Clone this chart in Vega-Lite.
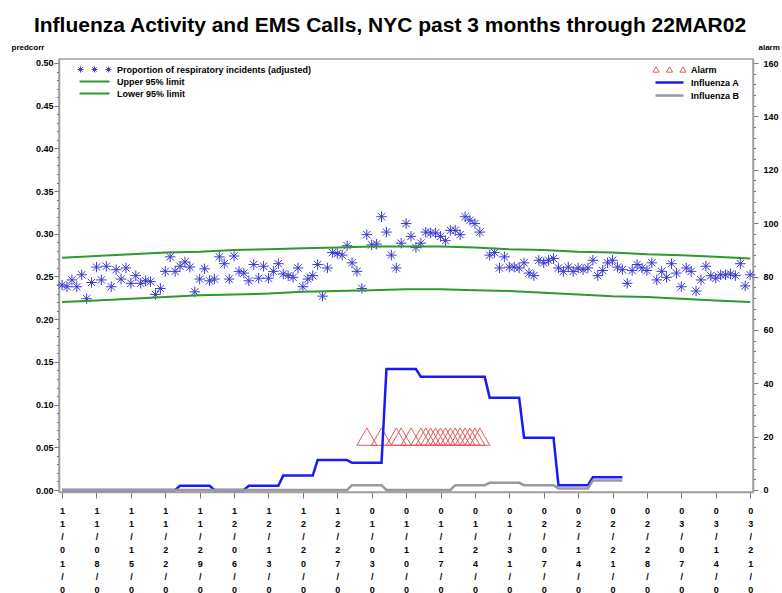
{
  "$schema": "https://vega.github.io/schema/vega-lite/v6.json",
  "width": 694,
  "height": 433,
  "autosize": {"type": "none"},
  "padding": {"left": 59, "top": 59, "right": 29, "bottom": 101},
  "background": "white",
  "config": {
    "font": "Liberation Sans",
    "view": {"stroke": "#a0a0a0", "strokeWidth": 1.5}
  },
  "title": {
    "text": "Influenza Activity and EMS Calls, NYC past 3 months through 22MAR02",
    "font": "Liberation Sans",
    "fontSize": 21,
    "fontWeight": "bold",
    "color": "black",
    "anchor": "middle",
    "frame": "group",
    "dx": -16,
    "offset": 7
  },
  "datasets": {
    "pts": [
      {"date":"2001-11-01","value":0.240},{"date":"2001-11-02","value":0.238},{"date":"2001-11-03","value":0.246},{"date":"2001-11-04","value":0.238},{"date":"2001-11-05","value":0.252},{"date":"2001-11-06","value":0.224},{"date":"2001-11-07","value":0.243},{"date":"2001-11-08","value":0.261},{"date":"2001-11-09","value":0.246},{"date":"2001-11-10","value":0.262},
      {"date":"2001-11-11","value":0.238},{"date":"2001-11-12","value":0.258},{"date":"2001-11-13","value":0.247},{"date":"2001-11-14","value":0.260},{"date":"2001-11-15","value":0.242},{"date":"2001-11-16","value":0.251},{"date":"2001-11-17","value":0.242},{"date":"2001-11-18","value":0.245},{"date":"2001-11-19","value":0.244},{"date":"2001-11-20","value":0.229},
      {"date":"2001-11-21","value":0.236},{"date":"2001-11-22","value":0.256},{"date":"2001-11-23","value":0.273},{"date":"2001-11-24","value":0.256},{"date":"2001-11-25","value":0.262},{"date":"2001-11-26","value":0.267},{"date":"2001-11-27","value":0.261},{"date":"2001-11-28","value":0.232},{"date":"2001-11-29","value":0.247},{"date":"2001-11-30","value":0.259},
      {"date":"2001-12-01","value":0.245},{"date":"2001-12-02","value":0.247},{"date":"2001-12-03","value":0.273},{"date":"2001-12-04","value":0.265},{"date":"2001-12-05","value":0.247},{"date":"2001-12-06","value":0.274},{"date":"2001-12-07","value":0.256},{"date":"2001-12-08","value":0.254},{"date":"2001-12-09","value":0.245},{"date":"2001-12-10","value":0.264},
      {"date":"2001-12-11","value":0.248},{"date":"2001-12-12","value":0.262},{"date":"2001-12-13","value":0.248},{"date":"2001-12-14","value":0.256},{"date":"2001-12-15","value":0.265},{"date":"2001-12-16","value":0.253},{"date":"2001-12-17","value":0.251},{"date":"2001-12-18","value":0.249},{"date":"2001-12-19","value":0.260},{"date":"2001-12-20","value":0.238},
      {"date":"2001-12-21","value":0.247},{"date":"2001-12-22","value":0.251},{"date":"2001-12-23","value":0.264},{"date":"2001-12-24","value":0.227},{"date":"2001-12-25","value":0.260},{"date":"2001-12-26","value":0.278},{"date":"2001-12-27","value":0.277},{"date":"2001-12-28","value":0.275},{"date":"2001-12-29","value":0.286},{"date":"2001-12-30","value":0.266},
      {"date":"2001-12-31","value":0.256},{"date":"2002-01-01","value":0.236},{"date":"2002-01-02","value":0.299},{"date":"2002-01-03","value":0.287},{"date":"2002-01-04","value":0.288},{"date":"2002-01-05","value":0.320},{"date":"2002-01-06","value":0.302},{"date":"2002-01-07","value":0.275},{"date":"2002-01-08","value":0.260},{"date":"2002-01-09","value":0.289},
      {"date":"2002-01-10","value":0.312},{"date":"2002-01-11","value":0.297},{"date":"2002-01-12","value":0.284},{"date":"2002-01-13","value":0.289},{"date":"2002-01-14","value":0.302},{"date":"2002-01-15","value":0.301},{"date":"2002-01-16","value":0.301},{"date":"2002-01-17","value":0.297},{"date":"2002-01-18","value":0.292},{"date":"2002-01-19","value":0.304},
      {"date":"2002-01-20","value":0.304},{"date":"2002-01-21","value":0.299},{"date":"2002-01-22","value":0.320},{"date":"2002-01-23","value":0.316},{"date":"2002-01-24","value":0.312},{"date":"2002-01-25","value":0.302},{"date":"2002-01-27","value":0.275},{"date":"2002-01-28","value":0.278},{"date":"2002-01-29","value":0.260},{"date":"2002-01-30","value":0.273},
      {"date":"2002-01-31","value":0.261},{"date":"2002-02-01","value":0.261},{"date":"2002-02-02","value":0.260},{"date":"2002-02-03","value":0.266},{"date":"2002-02-04","value":0.254},{"date":"2002-02-05","value":0.251},{"date":"2002-02-06","value":0.269},{"date":"2002-02-07","value":0.266},{"date":"2002-02-08","value":0.269},{"date":"2002-02-09","value":0.271},
      {"date":"2002-02-10","value":0.260},{"date":"2002-02-11","value":0.256},{"date":"2002-02-12","value":0.261},{"date":"2002-02-13","value":0.256},{"date":"2002-02-14","value":0.260},{"date":"2002-02-15","value":0.258},{"date":"2002-02-16","value":0.260},{"date":"2002-02-17","value":0.269},{"date":"2002-02-18","value":0.251},{"date":"2002-02-19","value":0.257},
      {"date":"2002-02-20","value":0.266},{"date":"2002-02-21","value":0.269},{"date":"2002-02-22","value":0.261},{"date":"2002-02-23","value":0.258},{"date":"2002-02-24","value":0.242},{"date":"2002-02-25","value":0.257},{"date":"2002-02-26","value":0.264},{"date":"2002-02-27","value":0.260},{"date":"2002-02-28","value":0.257},{"date":"2002-03-01","value":0.266},
      {"date":"2002-03-02","value":0.246},{"date":"2002-03-03","value":0.256},{"date":"2002-03-04","value":0.249},{"date":"2002-03-05","value":0.265},{"date":"2002-03-06","value":0.254},{"date":"2002-03-07","value":0.238},{"date":"2002-03-08","value":0.260},{"date":"2002-03-09","value":0.256},{"date":"2002-03-10","value":0.233},{"date":"2002-03-11","value":0.246},
      {"date":"2002-03-12","value":0.262},{"date":"2002-03-13","value":0.251},{"date":"2002-03-14","value":0.248},{"date":"2002-03-15","value":0.252},{"date":"2002-03-16","value":0.252},{"date":"2002-03-17","value":0.253},{"date":"2002-03-18","value":0.251},{"date":"2002-03-19","value":0.265},{"date":"2002-03-20","value":0.239},{"date":"2002-03-21","value":0.252}
    ],
    "limits": [
      {"date":"2001-11-01","series":"Upper 95% limit","value":0.272},{"date":"2001-11-08","series":"Upper 95% limit","value":0.274},{"date":"2001-11-15","series":"Upper 95% limit","value":0.276},{"date":"2001-11-22","series":"Upper 95% limit","value":0.278},{"date":"2001-11-29","series":"Upper 95% limit","value":0.279},{"date":"2001-12-06","series":"Upper 95% limit","value":0.281},{"date":"2001-12-13","series":"Upper 95% limit","value":0.282},
      {"date":"2001-12-20","series":"Upper 95% limit","value":0.283},{"date":"2001-12-27","series":"Upper 95% limit","value":0.284},{"date":"2002-01-03","series":"Upper 95% limit","value":0.285},{"date":"2002-01-10","series":"Upper 95% limit","value":0.285},{"date":"2002-01-17","series":"Upper 95% limit","value":0.285},{"date":"2002-01-24","series":"Upper 95% limit","value":0.284},{"date":"2002-01-31","series":"Upper 95% limit","value":0.282},
      {"date":"2002-02-07","series":"Upper 95% limit","value":0.281},{"date":"2002-02-14","series":"Upper 95% limit","value":0.279},{"date":"2002-02-21","series":"Upper 95% limit","value":0.278},{"date":"2002-02-28","series":"Upper 95% limit","value":0.276},{"date":"2002-03-07","series":"Upper 95% limit","value":0.275},{"date":"2002-03-14","series":"Upper 95% limit","value":0.273},{"date":"2002-03-21","series":"Upper 95% limit","value":0.271},
      {"date":"2001-11-01","series":"Lower 95% limit","value":0.220},{"date":"2001-11-08","series":"Lower 95% limit","value":0.222},{"date":"2001-11-15","series":"Lower 95% limit","value":0.224},{"date":"2001-11-22","series":"Lower 95% limit","value":0.226},{"date":"2001-11-29","series":"Lower 95% limit","value":0.228},{"date":"2001-12-06","series":"Lower 95% limit","value":0.229},{"date":"2001-12-13","series":"Lower 95% limit","value":0.230},
      {"date":"2001-12-20","series":"Lower 95% limit","value":0.232},{"date":"2001-12-27","series":"Lower 95% limit","value":0.233},{"date":"2002-01-03","series":"Lower 95% limit","value":0.234},{"date":"2002-01-10","series":"Lower 95% limit","value":0.235},{"date":"2002-01-17","series":"Lower 95% limit","value":0.235},{"date":"2002-01-24","series":"Lower 95% limit","value":0.234},{"date":"2002-01-31","series":"Lower 95% limit","value":0.233},
      {"date":"2002-02-07","series":"Lower 95% limit","value":0.231},{"date":"2002-02-14","series":"Lower 95% limit","value":0.229},{"date":"2002-02-21","series":"Lower 95% limit","value":0.227},{"date":"2002-02-28","series":"Lower 95% limit","value":0.226},{"date":"2002-03-07","series":"Lower 95% limit","value":0.224},{"date":"2002-03-14","series":"Lower 95% limit","value":0.222},{"date":"2002-03-21","series":"Lower 95% limit","value":0.220}
    ],
    "flu": [
      {"date":"2001-11-01","series":"Influenza A","value":0},{"date":"2001-11-24","series":"Influenza A","value":0},{"date":"2001-11-25","series":"Influenza A","value":1.6},{"date":"2001-12-01","series":"Influenza A","value":1.6},{"date":"2001-12-02","series":"Influenza A","value":0},{"date":"2001-12-08","series":"Influenza A","value":0},{"date":"2001-12-09","series":"Influenza A","value":1.6},{"date":"2001-12-15","series":"Influenza A","value":1.6},
      {"date":"2001-12-16","series":"Influenza A","value":5.4},{"date":"2001-12-22","series":"Influenza A","value":5.4},{"date":"2001-12-23","series":"Influenza A","value":11.2},{"date":"2001-12-29","series":"Influenza A","value":11.2},{"date":"2001-12-30","series":"Influenza A","value":10.2},{"date":"2002-01-05","series":"Influenza A","value":10.2},{"date":"2002-01-06","series":"Influenza A","value":45.3},{"date":"2002-01-12","series":"Influenza A","value":45.3},
      {"date":"2002-01-13","series":"Influenza A","value":42.4},{"date":"2002-01-26","series":"Influenza A","value":42.4},{"date":"2002-01-27","series":"Influenza A","value":34.6},{"date":"2002-02-02","series":"Influenza A","value":34.6},{"date":"2002-02-03","series":"Influenza A","value":19.6},{"date":"2002-02-09","series":"Influenza A","value":19.6},{"date":"2002-02-10","series":"Influenza A","value":1.8},{"date":"2002-02-16","series":"Influenza A","value":1.8},
      {"date":"2002-02-17","series":"Influenza A","value":4.8},{"date":"2002-02-23","series":"Influenza A","value":4.8},
      {"date":"2001-11-01","series":"Influenza B","value":0},{"date":"2001-12-29","series":"Influenza B","value":0},{"date":"2001-12-30","series":"Influenza B","value":1.8},{"date":"2002-01-05","series":"Influenza B","value":1.8},{"date":"2002-01-06","series":"Influenza B","value":0},{"date":"2002-01-19","series":"Influenza B","value":0},{"date":"2002-01-20","series":"Influenza B","value":1.8},{"date":"2002-01-26","series":"Influenza B","value":1.8},
      {"date":"2002-01-27","series":"Influenza B","value":2.7},{"date":"2002-02-02","series":"Influenza B","value":2.7},{"date":"2002-02-03","series":"Influenza B","value":1.8},{"date":"2002-02-09","series":"Influenza B","value":1.8},{"date":"2002-02-10","series":"Influenza B","value":0.6},{"date":"2002-02-16","series":"Influenza B","value":0.6},{"date":"2002-02-17","series":"Influenza B","value":3.6},{"date":"2002-02-23","series":"Influenza B","value":3.6}
    ],
    "alarm": [
      {"date":"2002-01-02","value":20},{"date":"2002-01-05","value":20},{"date":"2002-01-08","value":20},{"date":"2002-01-09","value":20},{"date":"2002-01-11","value":20},{"date":"2002-01-13","value":20},{"date":"2002-01-14","value":20},{"date":"2002-01-15","value":20},{"date":"2002-01-16","value":20},
      {"date":"2002-01-17","value":20},{"date":"2002-01-18","value":20},{"date":"2002-01-19","value":20},{"date":"2002-01-20","value":20},{"date":"2002-01-21","value":20},{"date":"2002-01-22","value":20},{"date":"2002-01-23","value":20},{"date":"2002-01-24","value":20},{"date":"2002-01-25","value":20}
    ]
  },
  "encoding": {
    "x": {
      "field": "date",
      "type": "temporal",
      "scale": {
        "type": "utc",
        "domain": [
          {"year": 2001, "month": 10, "date": 31, "hours": 9, "utc": true},
          {"year": 2002, "month": 3, "date": 21, "hours": 14, "utc": true}
        ]
      },
      "axis": {
        "title": null,
        "grid": false,
        "values": [
          {"year":2001,"month":11,"date":1,"utc":true},{"year":2001,"month":11,"date":8,"utc":true},{"year":2001,"month":11,"date":15,"utc":true},{"year":2001,"month":11,"date":22,"utc":true},{"year":2001,"month":11,"date":29,"utc":true},
          {"year":2001,"month":12,"date":6,"utc":true},{"year":2001,"month":12,"date":13,"utc":true},{"year":2001,"month":12,"date":20,"utc":true},{"year":2001,"month":12,"date":27,"utc":true},
          {"year":2002,"month":1,"date":3,"utc":true},{"year":2002,"month":1,"date":10,"utc":true},{"year":2002,"month":1,"date":17,"utc":true},{"year":2002,"month":1,"date":24,"utc":true},{"year":2002,"month":1,"date":31,"utc":true},
          {"year":2002,"month":2,"date":7,"utc":true},{"year":2002,"month":2,"date":14,"utc":true},{"year":2002,"month":2,"date":21,"utc":true},{"year":2002,"month":2,"date":28,"utc":true},
          {"year":2002,"month":3,"date":7,"utc":true},{"year":2002,"month":3,"date":14,"utc":true},{"year":2002,"month":3,"date":21,"utc":true}
        ],
        "labelExpr": "split(utcFormat(datum.value, '%m/%d/%y'), '')",
        "labelAngle": 0,
        "labelAlign": "center",
        "labelBaseline": "top",
        "labelLineHeight": 13.3,
        "labelFontSize": 9,
        "labelFontWeight": "bold",
        "labelColor": "black",
        "labelPadding": 8,
        "labelOverlap": false,
        "labelFlush": false,
        "labelBound": false,
        "tickSize": 6,
        "tickColor": "#777777",
        "domainColor": "#a0a0a0",
        "domainWidth": 1.5
      }
    }
  },
  "layer": [
    {
      "encoding": {
        "y": {
          "field": "value",
          "type": "quantitative",
          "scale": {"domain": [-0.00234, 0.50468], "nice": false, "zero": false},
          "axis": {
            "orient": "left",
            "title": "predcorr",
            "titleAngle": 0,
            "titleX": -48,
            "titleY": -10,
            "titleAlign": "left",
            "titleBaseline": "alphabetic",
            "titleFontSize": 8,
            "titleFontWeight": "bold",
            "titleColor": "black",
            "grid": false,
            "values": [0,0.01,0.02,0.03,0.04,0.05,0.06,0.07,0.08,0.09,0.1,0.11,0.12,0.13,0.14,0.15,0.16,0.17,0.18,0.19,0.2,0.21,0.22,0.23,0.24,0.25,0.26,0.27,0.28,0.29,0.3,0.31,0.32,0.33,0.34,0.35,0.36,0.37,0.38,0.39,0.4,0.41,0.42,0.43,0.44,0.45,0.46,0.47,0.48,0.49,0.5],
            "labelExpr": "abs(datum.value * 20 - round(datum.value * 20)) < 0.001 ? format(datum.value, '.2f') : ''",
            "tickSize": {"condition": {"test": "abs(datum.value * 20 - round(datum.value * 20)) < 0.001", "value": 5}, "value": 2.5},
            "tickColor": "#777777",
            "domainColor": "#a0a0a0",
            "domainWidth": 1.5,
            "labelFontSize": 9,
            "labelFontWeight": "bold",
            "labelColor": "black",
            "labelPadding": 1,
            "labelOverlap": false,
            "labelFlush": false,
            "labelBound": false
          }
        }
      },
      "layer": [
        {
          "data": {"name": "pts"},
          "mark": {"type": "point", "shape": "M-1,0L1,0M0,-1L0,1M-0.7,-0.7L0.7,0.7M-0.7,0.7L0.7,-0.7", "filled": false, "size": 110, "strokeWidth": 1, "opacity": 1},
          "encoding": {
            "color": {
              "datum": "Proportion of respiratory incidents (adjusted)",
              "type": "nominal",
              "scale": {
                "domain": ["Proportion of respiratory incidents (adjusted)", "Upper 95% limit", "Lower 95% limit"],
                "range": ["#3a3ad0", "#2e9a2e", "#2e9a2e"]
              },
              "legend": {
                "title": null,
                "orient": "none",
                "legendX": 31,
                "legendY": 6,
                "padding": 0,
                "symbolSize": 900,
                "symbolType": {"expr": "datum.value === 'Proportion of respiratory incidents (adjusted)' ? 'M-1.13,0L-0.73,0M-0.93,-0.2L-0.93,0.2M-1.07,-0.14L-0.79,0.14M-1.07,0.14L-0.79,-0.14M-0.2,0L0.2,0M0,-0.2L0,0.2M-0.14,-0.14L0.14,0.14M-0.14,0.14L0.14,-0.14M0.73,0L1.13,0M0.93,-0.2L0.93,0.2M0.79,-0.14L1.07,0.14M0.79,0.14L1.07,-0.14' : 'stroke'"},
                "symbolStrokeWidth": {"expr": "datum.value === 'Proportion of respiratory incidents (adjusted)' ? 1 : 2"},
                "symbolFillColor": "transparent",
                "labelFontSize": 9,
                "labelFontWeight": "bold",
                "labelColor": "black",
                "labelOffset": 18,
                "labelLimit": 400
              }
            }
          }
        },
        {
          "data": {"name": "limits"},
          "mark": {"type": "line", "strokeWidth": 2},
          "encoding": {
            "color": {"field": "series", "type": "nominal", "legend": {"title": null}}
          }
        }
      ]
    },
    {
      "encoding": {
        "y": {
          "field": "value",
          "type": "quantitative",
          "scale": {"domain": [-0.75, 161.5], "nice": false, "zero": false},
          "axis": {
            "orient": "right",
            "title": "alarm",
            "titleAngle": 0,
            "titleX": 5,
            "titleY": -10,
            "titleAlign": "left",
            "titleBaseline": "alphabetic",
            "titleFontSize": 8,
            "titleFontWeight": "bold",
            "titleColor": "black",
            "grid": false,
            "values": [0,4,8,12,16,20,24,28,32,36,40,44,48,52,56,60,64,68,72,76,80,84,88,92,96,100,104,108,112,116,120,124,128,132,136,140,144,148,152,156,160],
            "labelExpr": "datum.value % 20 === 0 ? format(datum.value, 'd') : ''",
            "tickSize": {"condition": {"test": "datum.value % 20 === 0", "value": 5}, "value": 2.5},
            "tickColor": "#777777",
            "domainColor": "#a0a0a0",
            "domainWidth": 1.5,
            "labelFontSize": 9,
            "labelFontWeight": "bold",
            "labelColor": "black",
            "labelPadding": 5,
            "labelOverlap": false,
            "labelFlush": false,
            "labelBound": false
          }
        }
      },
      "layer": [
        {
          "data": {"name": "alarm"},
          "mark": {"type": "point", "shape": "triangle-up", "filled": false, "size": 400, "strokeWidth": 1, "opacity": 1},
          "encoding": {
            "stroke": {
              "datum": "Alarm",
              "type": "nominal",
              "scale": {
                "domain": ["Alarm", "Influenza A", "Influenza B"],
                "range": ["#e05a5a", "#1a1af5", "#999999"]
              },
              "legend": {
                "title": null,
                "orient": "none",
                "legendX": 606,
                "legendY": 6,
                "padding": 0,
                "symbolSize": 784,
                "symbolType": {"expr": "datum.value === 'Alarm' ? 'M-0.96,-0.19L-0.74,0.19L-1.18,0.19ZM0,-0.19L0.22,0.19L-0.22,0.19ZM0.96,-0.19L1.18,0.19L0.74,0.19Z' : 'stroke'"},
                "symbolStrokeWidth": {"expr": "datum.value === 'Alarm' ? 1 : 2.5"},
                "symbolFillColor": "transparent",
                "labelFontSize": 9,
                "labelFontWeight": "bold",
                "labelColor": "black",
                "labelOffset": 17,
                "labelLimit": 300
              }
            }
          }
        },
        {
          "data": {"name": "flu"},
          "mark": {"type": "line", "strokeWidth": 2.5},
          "encoding": {
            "stroke": {"field": "series", "type": "nominal", "legend": {"title": null}}
          }
        }
      ]
    }
  ],
  "resolve": {"scale": {"y": "independent"}}
}
